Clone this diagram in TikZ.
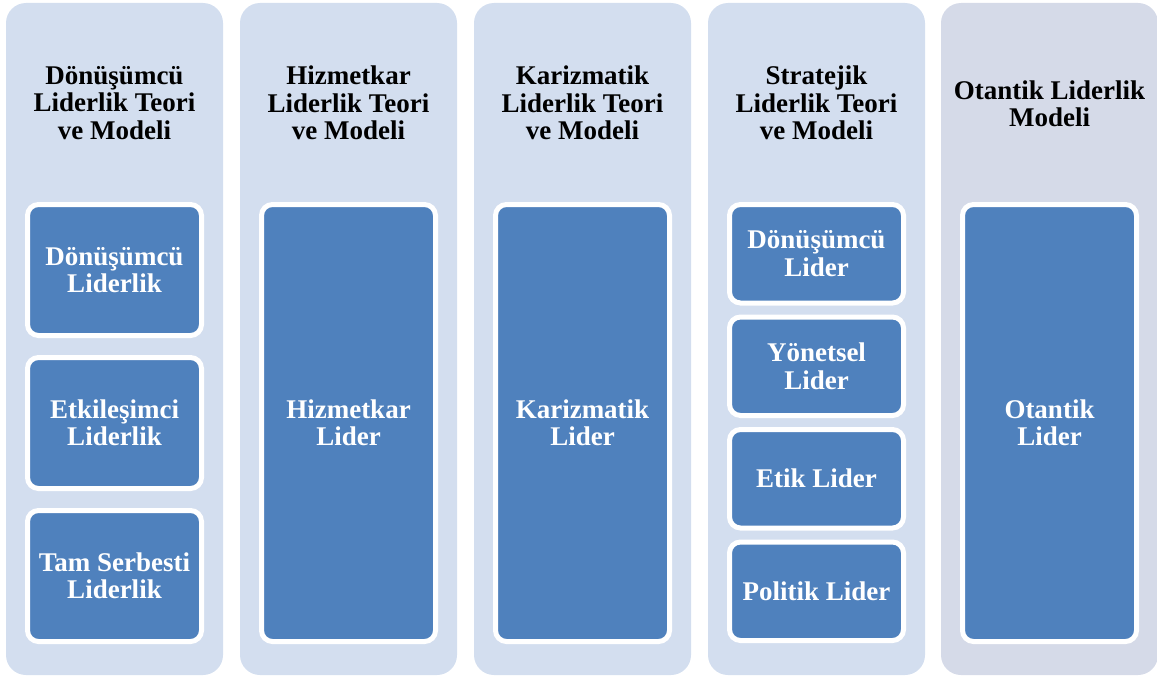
\documentclass[tikz,border=0pt]{standalone}
\usepackage{fontspec}
\setmainfont{Liberation Serif}
\definecolor{bgblue}{RGB}{211,222,239}
\definecolor{bggrey}{RGB}{213,218,232}
\definecolor{boxblue}{RGB}{79,129,189}
\tikzset{
  colbg/.style={rectangle, rounded corners=20pt, fill=bgblue, minimum width=217pt, minimum height=672pt, inner sep=0pt},
  coltitle/.style={align=center, text=black, font=\fontsize{27}{27.5}\selectfont\bfseries, inner sep=0pt},
  bluebox/.style={rectangle, rounded corners=11pt, fill=boxblue, draw=white, line width=5pt, minimum width=174pt, align=center, text=white, font=\fontsize{27}{27.5}\selectfont\bfseries, inner sep=0pt},
}
\begin{document}
\begin{tikzpicture}[x=1pt,y=-1pt]
\useasboundingbox (0,0) rectangle (1157,677);
% columns
\node[colbg] (c1) at (114.5,339) {};
\node[colbg] (c2) at (348.5,339) {};
\node[colbg] (c3) at (582.5,339) {};
\node[colbg] (c4) at (816.5,339) {};
\node[colbg, fill=bggrey] (c5) at (1049.5,339) {};
% titles
\node[coltitle] (t1) at (114.5,103) {Dönüşümcü\\Liderlik Teori\\ve Modeli};
\node[coltitle] (t2) at (348.5,103) {Hizmetkar\\Liderlik Teori\\ve Modeli};
\node[coltitle] (t3) at (582.5,103) {Karizmatik\\Liderlik Teori\\ve Modeli};
\node[coltitle] (t4) at (816.5,103) {Stratejik\\Liderlik Teori\\ve Modeli};
\node[coltitle] (t5) at (1049.5,104) {Otantik Liderlik\\Modeli};
% column 1
\node[bluebox, minimum height=131pt] (b11) at (114.5,270) {Dönüşümcü\\Liderlik};
\node[bluebox, minimum height=131pt] (b12) at (114.5,423) {Etkileşimci\\Liderlik};
\node[bluebox, minimum height=131pt] (b13) at (114.5,576) {Tam Serbesti\\Liderlik};
% columns 2,3,5
\node[bluebox, minimum height=437pt] (b21) at (348.5,423) {Hizmetkar\\Lider};
\node[bluebox, minimum height=437pt] (b31) at (582.5,423) {Karizmatik\\Lider};
\node[bluebox, minimum height=437pt] (b51) at (1049.5,423) {Otantik\\Lider};
% column 4
\node[bluebox, minimum height=98.5pt] (b41) at (816.5,253.75) {Dönüşümcü\\Lider};
\node[bluebox, minimum height=98.5pt] (b42) at (816.5,366.25) {Yönetsel\\Lider};
\node[bluebox, minimum height=98.5pt] (b43) at (816.5,478.75) {Etik Lider};
\node[bluebox, minimum height=98.5pt] (b44) at (816.5,591.25) {Politik Lider};
\end{tikzpicture}
\end{document}
